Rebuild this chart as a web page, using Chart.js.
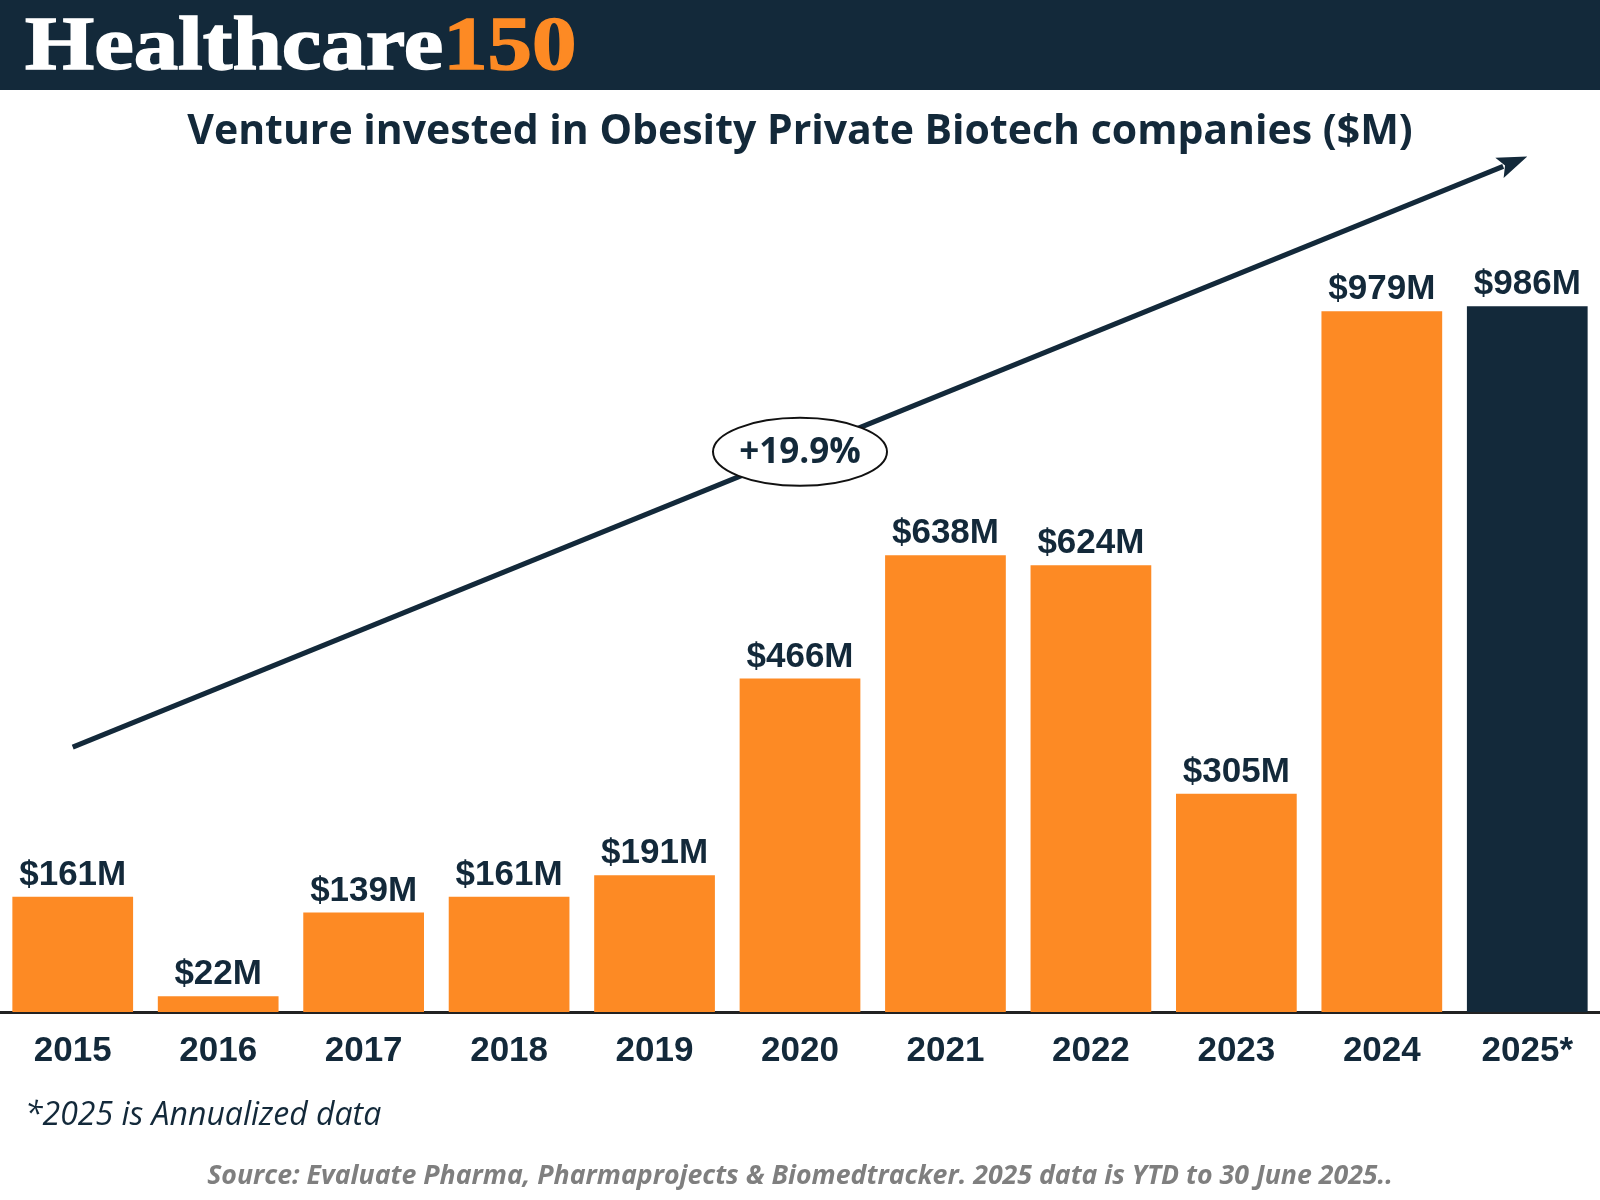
<!DOCTYPE html>
<html>
<head>
<meta charset="utf-8">
<script src="https://cdn.jsdelivr.net/npm/chart.js@4.4.1/dist/chart.umd.min.js"></script>
<style>
  html, body { margin: 0; padding: 0; background: #fff; }
  #page { position: relative; width: 1600px; height: 1200px; overflow: hidden; }
  #header { position: absolute; left: 0; top: 0; width: 1600px; height: 90px; background: #13293a; }
  #logo { position: absolute; left: 25px; top: 5px; font-family: "Liberation Serif", serif; font-weight: bold;
          font-size: 76px; line-height: 76px; color: #fff; white-space: nowrap;
          transform: scaleX(1.17); transform-origin: left center; -webkit-text-stroke: 1.5px #fff; }
  #logo span { color: #fd8a24; -webkit-text-stroke: 1.5px #fd8a24; }
  #title { position: absolute; left: 0; width: 1600px; top: 108px; text-align: center; font-family: "Open Sans", sans-serif;
           font-weight: bold; font-size: 41px; line-height: 41px; color: #13293a; }
  #note { position: absolute; left: 25px; top: 1097px; font-family: "Open Sans", sans-serif; font-style: italic;
          font-size: 32px; line-height: 32px; color: #13293a; }
  #source { position: absolute; left: 0; width: 1600px; top: 1160px; text-align: center; font-family: "Open Sans", sans-serif;
            font-style: italic; font-weight: bold; font-size: 26.7px; line-height: 27px; color: #7f7f7f; }
  #chartBox { position: absolute; left: 0; top: 0; width: 1600px; height: 1200px; }
</style>
</head>
<body>
<div id="page">
  <div id="chartBox"><canvas id="barChart" width="1600" height="1200"></canvas></div>
  <div id="header"><div id="logo">Healthcare<span>150</span></div></div>
  <div id="title">Venture invested in Obesity Private Biotech companies ($M)</div>
  <div id="note">*2025 is Annualized data</div>
  <div id="source">Source: Evaluate Pharma, Pharmaprojects &amp; Biomedtracker. 2025 data is YTD to 30 June 2025..</div>
</div>
<script>
const years = ['2015', '2016', '2017', '2018', '2019', '2020', '2021', '2022', '2023', '2024', '2025*'];
const venture = [161, 22, 139, 161, 191, 466, 638, 624, 305, 979, 986];
const barColors = ['#fd8a24', '#fd8a24', '#fd8a24', '#fd8a24', '#fd8a24', '#fd8a24',
                   '#fd8a24', '#fd8a24', '#fd8a24', '#fd8a24', '#13293a'];
// trend arrow: start/end values (in $M) and the growth label
const trendFrom = ['2015', 370];
const trendTo = ['2025*', 1195];
const trendLabel = '+19.9%';

const navy = '#13293a';

const barLabels = {
  id: 'barLabels',
  afterDatasetsDraw(chart) {
    const ctx = chart.ctx;
    const meta = chart.getDatasetMeta(0);
    ctx.save();
    ctx.font = 'bold 35px "Liberation Sans", Arial, sans-serif';
    ctx.fillStyle = navy;
    ctx.textAlign = 'center';
    ctx.textBaseline = 'bottom';
    meta.data.forEach((bar, i) => {
      ctx.fillText('$' + venture[i] + 'M', bar.x, bar.y - 4);
    });
    ctx.restore();
  }
};

const trendArrow = {
  id: 'trendArrow',
  afterDatasetsDraw(chart) {
    const ctx = chart.ctx;
    const xs = chart.scales.x, ys = chart.scales.y;
    const x1 = xs.getPixelForValue(years.indexOf(trendFrom[0])), y1 = ys.getPixelForValue(trendFrom[1]);
    const x2 = xs.getPixelForValue(years.indexOf(trendTo[0])), y2 = ys.getPixelForValue(trendTo[1]);
    const ang = Math.atan2(y2 - y1, x2 - x1);
    const head = 30, half = 11;
    ctx.save();
    ctx.strokeStyle = navy;
    ctx.fillStyle = navy;
    ctx.lineWidth = 5;
    ctx.beginPath();
    ctx.moveTo(x1, y1);
    ctx.lineTo(x2 - Math.cos(ang) * (head - 4), y2 - Math.sin(ang) * (head - 4));
    ctx.stroke();
    ctx.beginPath();
    ctx.moveTo(x2, y2);
    ctx.lineTo(x2 - Math.cos(ang) * head - Math.sin(ang) * half, y2 - Math.sin(ang) * head + Math.cos(ang) * half);
    ctx.lineTo(x2 - Math.cos(ang) * head * 0.8, y2 - Math.sin(ang) * head * 0.8);
    ctx.lineTo(x2 - Math.cos(ang) * head + Math.sin(ang) * half, y2 - Math.sin(ang) * head - Math.cos(ang) * half);
    ctx.closePath();
    ctx.fill();
    // label in ellipse at the middle of the line
    const cx = (x1 + x2) / 2, cy = (y1 + y2) / 2;
    ctx.beginPath();
    ctx.ellipse(cx, cy, 87, 34, 0, 0, Math.PI * 2);
    ctx.fillStyle = '#fff';
    ctx.fill();
    ctx.lineWidth = 2;
    ctx.strokeStyle = '#111';
    ctx.stroke();
    ctx.fillStyle = navy;
    ctx.font = 'bold 35px "Open Sans", sans-serif';
    ctx.textAlign = 'center';
    ctx.textBaseline = 'middle';
    ctx.fillText(trendLabel, cx, cy + 1);
    ctx.restore();
  }
};

new Chart(document.getElementById('barChart').getContext('2d'), {
  type: 'bar',
  data: {
    labels: years,
    datasets: [{
      label: 'Venture invested ($M)',
      data: venture,
      backgroundColor: barColors,
      borderWidth: 0,
      categoryPercentage: 1,
      barPercentage: 0.83
    }]
  },
  options: {
    responsive: false,
    animation: false,
    devicePixelRatio: 1,
    layout: { padding: { top: 153, left: 0, right: 0, bottom: 0 } },
    plugins: {
      legend: { display: false },
      tooltip: { enabled: false }
    },
    scales: {
      x: {
        z: 1,
        afterFit(scale) { scale.height = 188; },
        grid: { display: false, drawTicks: false },
        border: { display: true, color: '#222', width: 3 },
        ticks: {
          color: navy,
          padding: 18,
          font: { family: '"Liberation Sans", Arial, sans-serif', size: 35, weight: 'bold' }
        }
      },
      y: {
        display: false,
        min: 0,
        max: 1200
      }
    }
  },
  plugins: [barLabels, trendArrow]
});
</script>
</body>
</html>
